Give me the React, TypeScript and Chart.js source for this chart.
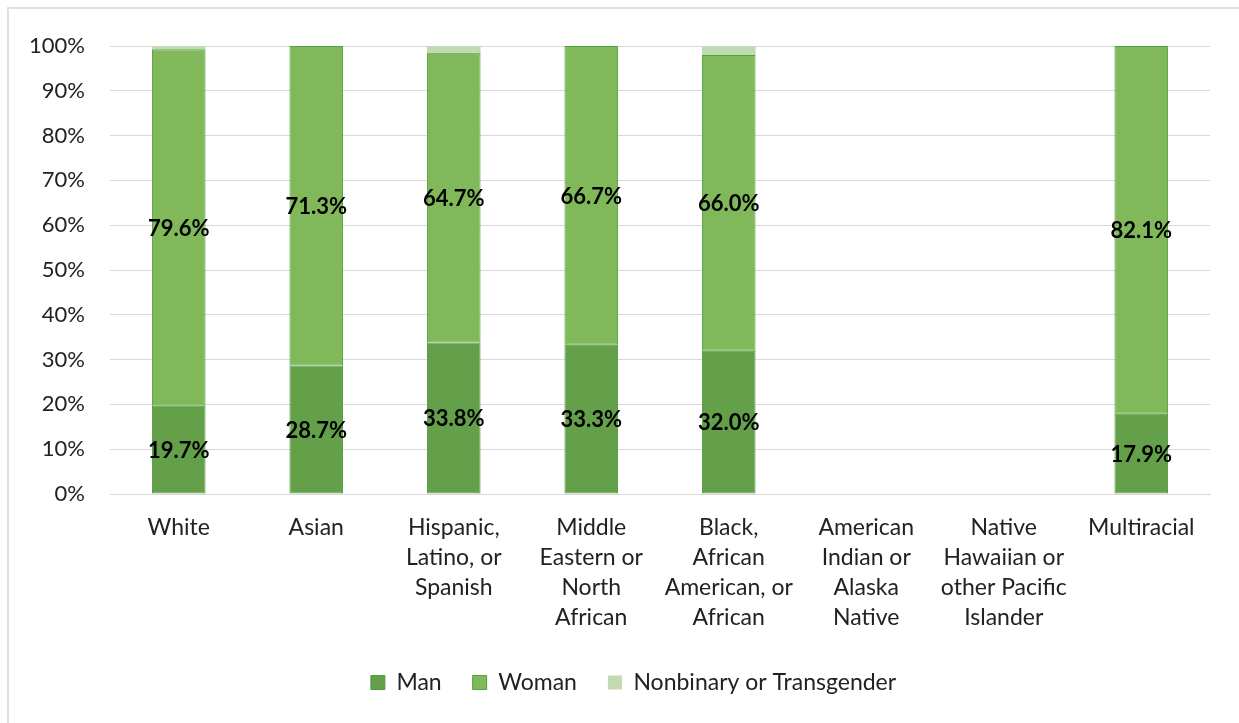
import React, { useEffect, useRef } from "react";
import { Chart, registerables } from "chart.js";

Chart.register(...registerables);

const categories: string[][] = [
  ["White"],
  ["Asian"],
  ["Hispanic,", "Latino, or", "Spanish"],
  ["Middle", "Eastern or", "North", "African"],
  ["Black,", "African", "American, or", "African"],
  ["American", "Indian or", "Alaska", "Native"],
  ["Native", "Hawaiian or", "other Pacific", "Islander"],
  ["Multiracial"],
];

const manValues: (number | null)[] = [19.7, 28.7, 33.8, 33.3, 32.0, null, null, 17.9];
const womanValues: (number | null)[] = [79.6, 71.3, 64.7, 66.7, 66.0, null, null, 82.1];
const nonbinaryValues: (number | null)[] = [0.7, 0, 1.5, 0, 2.0, null, null, 0];

const yTicks = [0, 10, 20, 30, 40, 50, 60, 70, 80, 90, 100];

const FONT = "Lato, 'Open Sans', sans-serif";

const labelPlugin = {
  id: "segLabels",
  afterDatasetsDraw(chart: any) {
    const ctx = chart.ctx;
    ctx.save();
    ctx.font = `bold 22px ${FONT}`;
    ctx.fillStyle = "#000";
    ctx.textAlign = "center";
    ctx.textBaseline = "middle";
    [0, 1].forEach((di) => {
      const meta = chart.getDatasetMeta(di);
      const data = chart.data.datasets[di].data;
      meta.data.forEach((el: any, i: number) => {
        const v = data[i];
        if (v == null || v === 0) return;
        const y = (el.y + el.base) / 2;
        ctx.fillText(`${v.toFixed(1)}%`, el.x, y + 1);
      });
    });
    ctx.restore();
  },
};

const legendPatch = {
  id: "legendPatch",
  afterInit(chart: any) {
    const lg = chart.legend;
    if (!lg) return;
    const f = lg.fit.bind(lg);
    lg.fit = () => {
      f();
      lg.height = 83;
    };
  },
  afterLayout(chart: any) {
    const lg = chart.legend;
    if (!lg) return;
    lg.left = 57;
    lg.right = 1210;
  },
};

export default function App() {
  const ref = useRef<HTMLCanvasElement>(null);
  useEffect(() => {
    if (!ref.current) return;
    const chart = new Chart(ref.current, {
      type: "bar",
      data: {
        labels: categories,
        datasets: [
          {
            label: "Man",
            data: manValues,
            backgroundColor: "#64a04a",
            borderColor: "#4e9c3c",
            borderWidth: 1,
            borderSkipped: false,
          },
          {
            label: "Woman",
            data: womanValues,
            backgroundColor: "#80b85a",
            borderColor: "#4ea43c",
            borderWidth: 1,
            borderSkipped: false,
          },
          {
            label: "Nonbinary or Transgender",
            data: nonbinaryValues,
            backgroundColor: "#c2dab2",
            borderColor: "#c2dab2",
            borderWidth: 0,
          },
        ] as any,
      },
      options: {
        animation: false,
        responsive: false,
        maintainAspectRatio: false,
        layout: { padding: { left: 0, right: 29, top: 46, bottom: 0 } },
        datasets: { bar: { categoryPercentage: 1, barPercentage: 0.39 } } as any,
        scales: {
          x: {
            stacked: true,
            grid: { display: false, drawTicks: false },
            border: { display: true, color: "#d9d9d9", width: 1 },
            ticks: {
              color: "#222",
              font: { family: FONT, size: 23, lineHeight: 1.3 },
              padding: 19,
              maxRotation: 0,
              autoSkip: false,
            },
            afterFit(scale: any) {
              scale.height = 146;
            },
          },
          y: {
            stacked: true,
            min: 0,
            max: 100,
            afterBuildTicks(scale: any) {
              scale.ticks = yTicks.map((v) => ({ value: v }));
            },
            grid: { color: "#d9d9d9", lineWidth: 1, drawTicks: false },
            border: { display: false },
            ticks: {
              color: "#222",
              font: { family: FONT, size: 22 },
              padding: 25,
              callback: (v: any) => `${v}%`,
            },
            afterFit(scale: any) {
              scale.width = 110;
            },
          },
        },
        plugins: {
          legend: {
            position: "bottom",
            labels: {
              color: "#222",
              font: { family: FONT, size: 23 },
              boxWidth: 14,
              boxHeight: 14,
              padding: 31,
            },
          },
          tooltip: { enabled: false },
        },
      },
      plugins: [labelPlugin, legendPatch],
    });
    chart.update();
    return () => chart.destroy();
  }, []);

  return (
    <div style={{ position: "fixed", left: 0, top: 0, width: 1239, height: 723, overflow: "hidden", background: "#fff" }}>
      <div
        style={{
          position: "absolute",
          left: 7,
          top: 7,
          width: 1260,
          height: 740,
          borderLeft: "2px solid #e0e0e0",
          borderTop: "2px solid #e0e0e0",
        }}
      />
      <canvas ref={ref} width={1239} height={723} style={{ position: "absolute", left: 0, top: 0 }} />
    </div>
  );
}
